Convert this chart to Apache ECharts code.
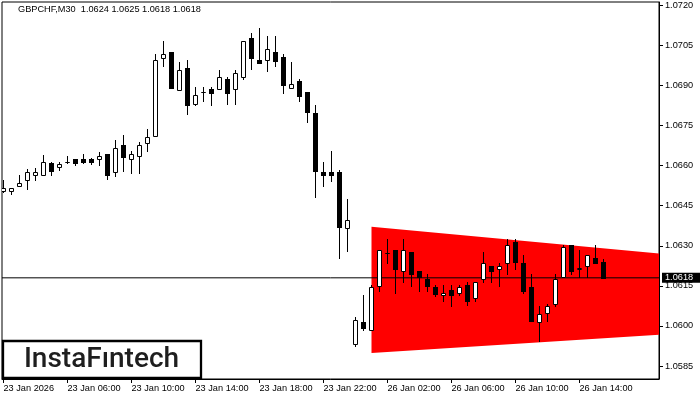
<!DOCTYPE html>
<html>
<head>
<meta charset="utf-8">
<script src="https://cdn.jsdelivr.net/npm/echarts@6/dist/echarts.min.js"></script>
<style>
html,body{margin:0;padding:0;background:#fff;}
#chart{width:700px;height:400px;}
</style>
</head>
<body>
<div id="chart"></div>
<script>
const symbolTitle = 'GBPCHF,M30  1.0624 1.0625 1.0618 1.0618';
const brandText = 'InstaFıntech';

const openPrices = [
1.06504,1.06506,1.06524,1.06546,1.06564,1.06564,1.06608,1.06594,1.06612,1.06624,
1.06624,1.06624,1.06624,1.06644,1.06575,1.06678,1.06624,1.06635,1.06684,1.06712,
1.07004,1.07025,1.06884,1.06964,1.06832,1.06875,1.06886,1.06886,1.06923,1.06886,
1.06933,1.07077,1.06995,1.06994,1.07024,1.07007,1.06892,1.06916,1.06876,1.06797,
1.06575,1.06575,1.06577,1.06366,1.05933,1.06016,1.05983,1.06151,1.06272,1.06285,
1.06204,1.06275,1.06205,1.06175,1.06145,1.06115,1.06135,1.06123,1.06153,1.06103,
1.06175,1.06225,1.06213,1.06235,1.06315,1.06235,1.06145,1.06013,1.06050,1.06082,
1.06183,1.06304,1.06213,1.06225,1.06255,1.0624];
const highPrices = [
1.06547,1.06516,1.06565,1.06588,1.06590,1.06638,1.06615,1.06615,1.06636,1.06624,
1.06644,1.06630,1.06652,1.06645,1.06696,1.06715,1.06655,1.06690,1.06737,1.07018,
1.07066,1.07025,1.06988,1.06994,1.06893,1.06893,1.06896,1.06957,1.06933,1.06957,
1.07065,1.07095,1.07115,1.07085,1.07085,1.07018,1.06988,1.06923,1.06876,1.06827,
1.06614,1.06655,1.06584,1.06476,1.06033,1.06117,1.06154,1.06285,1.06326,1.06285,
1.06326,1.06275,1.06205,1.06195,1.06154,1.06154,1.06154,1.06154,1.06164,1.06164,
1.06275,1.06225,1.06235,1.06326,1.06326,1.06266,1.06194,1.06075,1.06083,1.06195,
1.06304,1.06304,1.06285,1.06265,1.06304,1.0625];
const lowPrices = [
1.06502,1.06494,1.06523,1.06514,1.06546,1.06564,1.06563,1.06584,1.06610,1.06604,
1.06611,1.06605,1.06604,1.06550,1.06562,1.06581,1.06574,1.06574,1.06653,1.06712,
1.06974,1.06891,1.06884,1.06795,1.06825,1.06843,1.06825,1.06886,1.06832,1.06832,
1.06923,1.06963,1.06985,1.06955,1.06974,1.06873,1.06892,1.06843,1.06765,1.06484,
1.06522,1.06544,1.06254,1.06282,1.05923,1.05983,1.05983,1.06132,1.06235,1.06123,
1.06163,1.06151,1.06132,1.06132,1.06113,1.06092,1.06073,1.06114,1.06079,1.06092,
1.06163,1.06163,1.06151,1.06194,1.06213,1.06123,1.06020,1.05942,1.06020,1.06073,
1.06183,1.06193,1.06183,1.06183,1.06235,1.0618];
const closePrices = [
1.06515,1.06516,1.06535,1.06575,1.06575,1.06613,1.06581,1.06607,1.06614,1.06611,
1.06612,1.06612,1.06636,1.06563,1.06665,1.06634,1.06643,1.06676,1.06706,1.06994,
1.07018,1.06891,1.06957,1.06825,1.06863,1.06877,1.06873,1.06933,1.06873,1.06946,
1.07065,1.07004,1.06985,1.07035,1.06993,1.06903,1.06905,1.06861,1.06802,1.06581,
1.06563,1.06563,1.06372,1.06397,1.06023,1.05991,1.06145,1.06285,1.06274,1.06213,
1.06285,1.06194,1.06183,1.06151,1.06121,1.06123,1.06114,1.06145,1.06092,1.06164,
1.06235,1.06204,1.06225,1.06304,1.06241,1.06132,1.06020,1.06044,1.06074,1.06175,
1.06295,1.06204,1.06215,1.06265,1.06235,1.0618];

// x-axis labels (every 8th bar, starting at bar 0)
const xLabelIndex = [0, 8, 16, 24, 32, 40, 48, 56, 64, 72];
const xLabels = ['23 Jan 2026','23 Jan 06:00','23 Jan 10:00','23 Jan 14:00','23 Jan 18:00',
                 '23 Jan 22:00','26 Jan 02:00','26 Jan 06:00','26 Jan 10:00','26 Jan 14:00'];
const yTicks = [1.0585, 1.0600, 1.0615, 1.0630, 1.0645, 1.0660, 1.0675, 1.0690, 1.0705, 1.0720];

// symmetrical triangle pattern (bar index, upper price, lower price)
const triX = [46, 82];
const triTop = [1.06371, 1.06271];
const triBottom = [1.05899, 1.05967];

const lastPrice = 1.0618;

const X_MIN = -0.1875, X_MAX = 81.9375;
const FONT = 'Liberation Sans';
const FS = 9.2;

const candleData = openPrices.map((o, i) => [i, o, closePrices[i], lowPrices[i], highPrices[i]]);

function renderCandle(params, api) {
  const idx = api.value(0);
  const o = api.value(1), c = api.value(2), lo = api.value(3), hi = api.value(4);
  const x = api.coord([idx, o])[0];
  const yo = api.coord([idx, o])[1];
  const yc = api.coord([idx, c])[1];
  const yl = api.coord([idx, lo])[1];
  const yh = api.coord([idx, hi])[1];
  const xc = Math.round(x - 0.5) + 0.5;
  const top = Math.round(Math.min(yo, yc));
  const bot = Math.round(Math.max(yo, yc));
  const bull = c >= o;
  const children = [{
    type: 'line',
    shape: { x1: xc, y1: Math.round(yh), x2: xc, y2: Math.round(yl) + 1 },
    style: { stroke: '#000', lineWidth: 1 }
  }];
  if (bull) {
    children.push({
      type: 'rect',
      shape: { x: xc - 2, y: top + 0.5, width: 4, height: Math.max(bot - top, 0) },
      style: { fill: '#fff', stroke: '#000', lineWidth: 1 }
    });
  } else {
    children.push({
      type: 'rect',
      shape: { x: xc - 2.5, y: top, width: 5, height: Math.max(bot - top, 1) + 1 },
      style: { fill: '#000' }
    });
  }
  return { type: 'group', children: children };
}

function renderTriangle(params, api) {
  const p1 = api.coord([api.value(0), api.value(1)]);
  const p2 = api.coord([api.value(3), api.value(4)]);
  const p3 = api.coord([api.value(3), api.value(5)]);
  const p4 = api.coord([api.value(0), api.value(2)]);
  return {
    type: 'polygon',
    shape: { points: [p1, p2, p3, p4] },
    style: { fill: '#ff0000' }
  };
}

const chart = echarts.init(document.getElementById('chart'), null, { renderer: 'canvas' });
chart.setOption({
  animation: false,
  backgroundColor: '#fff',
  textStyle: { fontFamily: FONT },
  grid: { left: 2, right: 41, top: 2, bottom: 21, show: true, borderColor: '#000', borderWidth: 1, backgroundColor: '#fff' },
  xAxis: {
    type: 'value',
    min: X_MIN,
    max: X_MAX,
    axisLine: { show: true, onZero: false, lineStyle: { color: '#000', width: 1 } },
    axisTick: { show: true, length: 4, lineStyle: { color: '#000' }, customValues: xLabelIndex },
    axisLabel: {
      show: true, customValues: xLabelIndex, align: 'left', margin: 5,
      color: '#000', fontFamily: FONT, fontSize: FS,
      formatter: function (v) { const k = xLabelIndex.indexOf(Math.round(v)); return k >= 0 ? xLabels[k] : ''; }
    },
    splitLine: { show: false }
  },
  yAxis: {
    type: 'value',
    position: 'right',
    min: 1.0580135,
    max: 1.0721235,
    axisLine: { show: true, onZero: false, lineStyle: { color: '#000', width: 1 } },
    axisTick: { show: true, length: 4, lineStyle: { color: '#000' }, customValues: yTicks },
    axisLabel: {
      show: true, customValues: yTicks, margin: 6,
      color: '#000', fontFamily: FONT, fontSize: FS,
      formatter: function (v) { return v.toFixed(4); }
    },
    splitLine: { show: false }
  },
  series: [
    {
      name: 'triangle',
      type: 'custom',
      silent: true,
      clip: true,
      renderItem: renderTriangle,
      encode: { x: [0, 3], y: [1, 2, 4, 5] },
      data: [[triX[0], triTop[0], triBottom[0], triX[1], triTop[1], triBottom[1]]],
      z: 1
    },
    {
      name: 'price',
      type: 'line',
      data: [[X_MIN, lastPrice], [X_MAX, lastPrice]],
      silent: true,
      symbol: 'none',
      clip: false,
      lineStyle: { color: '#000', width: 1 },
      z: 2,
      endLabel: {
        show: true, distance: 3,
        formatter: function () { return lastPrice.toFixed(4); },
        color: '#fff', backgroundColor: '#000',
        fontFamily: FONT, fontSize: FS,
        padding: [1, 8, 0, 3]
      }
    },
    {
      name: 'GBPCHF',
      type: 'custom',
      silent: true,
      clip: true,
      renderItem: renderCandle,
      encode: { x: 0, y: [1, 2, 3, 4] },
      data: candleData,
      z: 3
    }
  ],
  graphic: [
    {
      type: 'text', left: 18, top: 5, silent: true,
      style: { text: symbolTitle, fill: '#000', font: FS + 'px "' + FONT + '"' }
    },
    {
      type: 'rect', silent: true, z: 10,
      shape: { x: 3, y: 341, width: 198, height: 37 },
      style: { fill: '#fff', stroke: '#000', lineWidth: 2.3 }
    },
    {
      type: 'text', silent: true, z: 11,
      x: 101.5, y: 360,
      style: { text: brandText, fill: '#1e1e1e', font: '500 28px Roboto', align: 'center', verticalAlign: 'middle' }
    }
  ]
});
</script>
</body>
</html>
